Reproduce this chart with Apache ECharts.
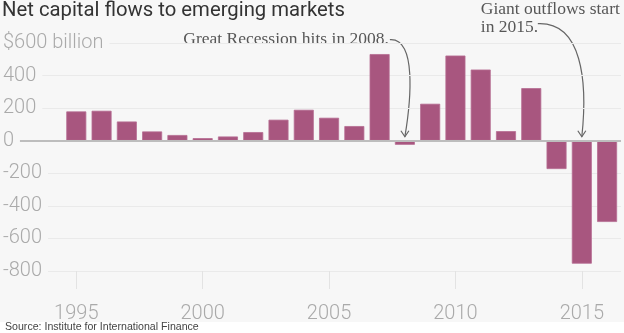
<!DOCTYPE html>
<html>
<head>
<meta charset="utf-8">
<script src="https://cdn.jsdelivr.net/npm/echarts@6/dist/echarts.min.js"></script>
<style>
  html, body { margin: 0; padding: 0; background: #f7f7f7; }
  #main { width: 624px; height: 333px; }
</style>
</head>
<body>
<div id="main"></div>
<script>
// Net capital flows to emerging markets, billions of US dollars
const years = [1995, 1996, 1997, 1998, 1999, 2000, 2001, 2002, 2003, 2004, 2005,
               2006, 2007, 2008, 2009, 2010, 2011, 2012, 2013, 2014, 2015, 2016];
const flows = [180, 184, 118, 57, 35, 16, 26, 53, 129, 190, 141,
               90, 532, -25, 227, 523, 437, 59, 323, -174, -755, -499];
const yearTicks = [1995, 2000, 2005, 2010, 2015];
const notes = [
  { year: 2008, text: 'Great Recession hits in 2008.' },
  { year: 2015, text: 'Giant outflows start\nin 2015.' }
];

const X_MIN = 1992.1;
const X_MAX = 2016.55;
const BG = '#f7f7f7';
const BAR = '#a8567f';
const LABEL = '#aaaaaa';

const chart = echarts.init(document.getElementById('main'), null, { renderer: 'canvas' });

chart.setOption({
  animation: false,
  backgroundColor: BG,
  title: {
    text: 'Net capital flows to emerging markets',
    left: 0,
    top: 0,
    padding: [1, 2],
    textStyle: { fontFamily: 'Roboto', fontSize: 20.3, fontWeight: 'normal', color: '#333333' }
  },
  grid: { left: 2, right: 3, top: 43, bottom: 62 },
  xAxis: {
    type: 'value',
    min: X_MIN,
    max: X_MAX,
    axisLine: { show: false, onZero: false },
    splitLine: { show: false },
    axisTick: {
      show: true,
      customValues: yearTicks,
      length: 18,
      lineStyle: { color: '#e3e3e3', width: 1 }
    },
    axisLabel: {
      customValues: yearTicks,
      margin: 33,
      fontFamily: 'Roboto',
      fontWeight: 300,
      fontSize: 20,
      color: LABEL,
      formatter: v => String(v)
    }
  },
  yAxis: {
    type: 'value',
    min: -800,
    max: 600,
    interval: 200,
    axisLine: { show: false },
    axisTick: { show: false },
    splitLine: { lineStyle: { color: '#eaeaea', width: 1 } },
    axisLabel: {
      inside: true,
      margin: 0,
      align: 'left',
      verticalAlign: 'middle',
      fontFamily: 'Roboto',
      fontWeight: 300,
      fontSize: 20,
      color: LABEL,
      backgroundColor: BG,
      padding: [0, 6, 0, 0],
      formatter: v => (v === 600 ? '$600 billion' : String(v))
    }
  },
  series: [{
    type: 'bar',
    data: years.map((y, i) => [y, flows[i]]),
    barWidth: 20,
    itemStyle: { color: BAR, borderColor: '#b66d93', borderWidth: 0.8 },
    // zero baseline, starting just right of the "0" tick label
    markLine: {
      silent: true,
      symbol: 'none',
      label: { show: false },
      lineStyle: { color: '#bdbdbd', width: 2, type: 'solid' },
      data: [[{ coord: [X_MIN + 0.67, 0] }, { coord: [X_MAX, 0] }]]
    }
  }],
  graphic: []
});

// Annotations anchored to the bars they point at
const px = (x, y) => chart.convertToPixel({ gridIndex: 0 }, [x, y]);
const noteFont = { fontFamily: 'Liberation Serif', fontSize: 17.5, fill: '#575757' };
const arrowStyle = { stroke: '#666666', lineWidth: 1.2, fill: null };

function arrowHead(x, y) {
  return {
    type: 'polyline',
    shape: { points: [[x - 4, y - 6], [x, y], [x + 4, y - 6]] },
    style: arrowStyle,
    silent: true
  };
}

const a = px(notes[0].year, 0);
const b = px(notes[1].year, 0);

const graphics = [
  {
    type: 'text',
    style: Object.assign({ text: notes[0].text, x: a[0] - 16, y: a[1] - 101,
                           align: 'right', verticalAlign: 'middle' }, noteFont),
    silent: true
  },
  {
    type: 'bezierCurve',
    shape: {
      x1: a[0] - 15, y1: a[1] - 101,
      cpx1: a[0] + 12, cpy1: a[1] - 103,
      cpx2: a[0] + 6, cpy2: a[1] - 40,
      x2: a[0], y2: a[1] - 4
    },
    style: arrowStyle,
    silent: true
  },
  arrowHead(a[0], a[1] - 4),
  {
    type: 'text',
    style: Object.assign({ text: notes[1].text, x: b[0] - 101, y: b[1] - 140,
                           align: 'left', verticalAlign: 'top', lineHeight: 18 }, noteFont),
    silent: true
  },
  {
    type: 'bezierCurve',
    shape: {
      x1: b[0] - 44, y1: b[1] - 117,
      cpx1: b[0], cpy1: b[1] - 119,
      cpx2: b[0] + 6, cpy2: b[1] - 60,
      x2: b[0], y2: b[1] - 4
    },
    style: arrowStyle,
    silent: true
  },
  arrowHead(b[0], b[1] - 4),
  {
    type: 'rect',
    shape: { x: 0, y: 322, width: 624, height: 11 },
    style: { fill: '#ffffff' },
    silent: true
  },
  {
    type: 'text',
    style: {
      text: 'Source: Institute for International Finance',
      x: 5, y: 327, align: 'left', verticalAlign: 'middle',
      fontFamily: 'Liberation Sans', fontSize: 10.6, fill: '#444444'
    },
    silent: true
  }
];

chart.setOption({ graphic: graphics });
</script>
</body>
</html>
